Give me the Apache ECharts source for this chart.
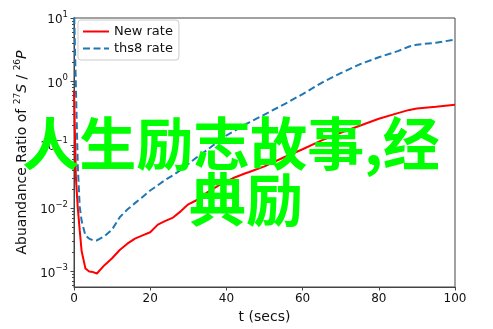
<!DOCTYPE html>
<html>
<head>
<meta charset="utf-8">
<script src="https://cdn.jsdelivr.net/npm/echarts@6/dist/echarts.min.js"></script>
<style>
  html, body { margin: 0; padding: 0; background: #fff; }
  #chart { width: 493px; height: 329px; }
</style>
</head>
<body>
<div id="chart"></div>
<script>
// Time samples (seconds)
const times = [0, 0.5, 1, 1.5, 2, 3, 4, 5, 6, 8, 10, 12, 14, 16, 18, 20, 22, 24, 26, 28, 30, 32, 35, 38, 40, 42, 45, 46, 50, 55, 60, 65, 70, 75, 80, 85, 88, 90, 95, 100];

// Abundance ratio, new rate
const newRate = [0.72, 0.03, 0.01, 0.0045, 0.0021, 0.00112, 0.00100, 0.00098, 0.00093, 0.00126, 0.00162, 0.00219, 0.00275, 0.00331, 0.00372, 0.00417, 0.0055, 0.0063, 0.0071, 0.0089, 0.0115, 0.0132, 0.0178, 0.0229, 0.0262, 0.0302, 0.0355, 0.0372, 0.0457, 0.063, 0.085, 0.117, 0.155, 0.20, 0.257, 0.316, 0.355, 0.372, 0.398, 0.427];

// Abundance ratio, ths8 rate
const ths8Rate = [15, 0.8, 0.045, 0.0105, 0.0063, 0.0037, 0.0033, 0.0031, 0.0031, 0.0036, 0.0046, 0.0072, 0.0095, 0.012, 0.015, 0.019, 0.023, 0.028, 0.033, 0.040, 0.050, 0.062, 0.083, 0.115, 0.14, 0.165, 0.21, 0.225, 0.30, 0.43, 0.63, 0.95, 1.35, 1.86, 2.4, 3.0, 3.55, 3.8, 4.07, 4.57];

// Axis ticks
const xTicks = [0, 20, 40, 60, 80, 100];
const yMajorTicks = [1e-3, 1e-2, 1e-1, 1, 10];
const yMinorTicks = [];
[1e-4, 1e-3, 1e-2, 1e-1, 1].forEach(function (d) {
  for (let k = 2; k <= 9; k++) yMinorTicks.push(+(k * d).toPrecision(3));
});

// Overlay caption lines
const captionLines = ['人生励志故事,经', '典励'];

const yMin = Math.pow(10, -3.244);
const yMax = 10;
const FONT = 'DejaVu Sans';

const supMinus = function (n) { return n < 0 ? '\u2212' + (-n) : String(n); };

const chart = echarts.init(document.getElementById('chart'), null, { renderer: 'canvas' });

const pairs = function (ys) { return times.map(function (t, i) { return [t, ys[i]]; }); };

const yBase = {
  type: 'log',
  logBase: 10,
  min: yMin,
  max: yMax,
  position: 'left',
  offset: 0,
  splitLine: { show: false },
  minorTick: { show: false },
  minorSplitLine: { show: false }
};

const captionStyle = function (text) {
  return {
    text: text,
    fill: '#00ff00',
    font: 'bold 57px "Noto Sans CJK SC"',
    textAlign: 'center',
    textVerticalAlign: 'middle'
  };
};

chart.setOption({
  animation: false,
  backgroundColor: '#fff',
  textStyle: { fontFamily: FONT },
  grid: {
    left: 74, right: 38, top: 18, bottom: 42,
    show: true, borderColor: '#444', borderWidth: 1, backgroundColor: 'transparent'
  },
  legend: {
    left: 78, top: 20,
    orient: 'vertical',
    itemWidth: 26, itemHeight: 12, itemGap: 4,
    padding: [5, 6, 5, 4],
    borderColor: '#ccc', borderWidth: 1, borderRadius: 3,
    backgroundColor: 'rgba(255,255,255,0.8)',
    itemStyle: { opacity: 0, color: 'transparent', borderWidth: 0 },
    textStyle: { fontFamily: FONT, fontSize: 13, color: '#111' },
    data: ['New rate', 'ths8 rate']
  },
  xAxis: {
    type: 'value',
    min: 0, max: 100, interval: 20,
    name: 't (secs)',
    nameLocation: 'middle',
    nameGap: 22,
    nameTextStyle: { fontFamily: FONT, fontSize: 14, color: '#111', verticalAlign: 'top' },
    axisLine: { show: true, lineStyle: { color: '#444', width: 1 } },
    axisTick: { show: true, length: 3.5, lineStyle: { color: '#444' } },
    axisLabel: { fontFamily: FONT, fontSize: 12, color: '#111', margin: 6,
      customValues: xTicks },
    splitLine: { show: false }
  },
  yAxis: [
    Object.assign({}, yBase, {
      name: 'Abuandance Ratio of {s|27}{i|S} / {s|26}{i|P}',
      nameLocation: 'middle',
      nameRotate: 90,
      nameGap: 28,
      nameTextStyle: {
        fontFamily: FONT, fontSize: 14, color: '#111',
        rich: {
          s: { fontFamily: FONT, fontSize: 9, color: '#111', verticalAlign: 'top', lineHeight: 18 },
          i: { fontFamily: FONT, fontSize: 14, color: '#111', fontStyle: 'italic', lineHeight: 18 }
        }
      },
      axisLine: { show: true, lineStyle: { color: '#444', width: 1 } },
      axisTick: { show: true, length: 3.5, lineStyle: { color: '#444' }, customValues: yMajorTicks },
      axisLabel: {
        fontFamily: FONT, color: '#111', margin: 6,
        customValues: yMajorTicks,
        formatter: function (v) {
          const e = Math.round(Math.log10(v));
          return '{b|10}{s|' + supMinus(e) + '}';
        },
        rich: {
          b: { fontFamily: FONT, fontSize: 12, color: '#111', lineHeight: 16, verticalAlign: 'bottom' },
          s: { fontFamily: FONT, fontSize: 8.5, color: '#111', lineHeight: 16, verticalAlign: 'top' }
        }
      }
    }),
    Object.assign({}, yBase, {
      axisLine: { show: false },
      axisTick: { show: true, length: 2, lineStyle: { color: '#444' }, customValues: yMinorTicks },
      axisLabel: { show: false }
    })
  ],
  series: [
    {
      name: 'New rate',
      type: 'line',
      yAxisIndex: 0,
      data: pairs(newRate),
      showSymbol: false,
      symbol: 'none',
      smooth: false,
      lineStyle: { color: '#ff0000', width: 2 },
      itemStyle: { color: '#ff0000' },
      z: 3
    },
    {
      name: 'ths8 rate',
      type: 'line',
      yAxisIndex: 0,
      data: pairs(ths8Rate),
      showSymbol: false,
      symbol: 'none',
      smooth: false,
      lineStyle: { color: '#1f77b4', width: 2, type: [7, 3.5] },
      itemStyle: { color: '#1f77b4' },
      z: 2
    }
  ],
  graphic: [
    { type: 'text', x: 231, y: 143, z: 100, style: captionStyle(captionLines[0]) },
    { type: 'text', x: 246, y: 199, z: 100, style: captionStyle(captionLines[1]) }
  ]
});
</script>
</body>
</html>
